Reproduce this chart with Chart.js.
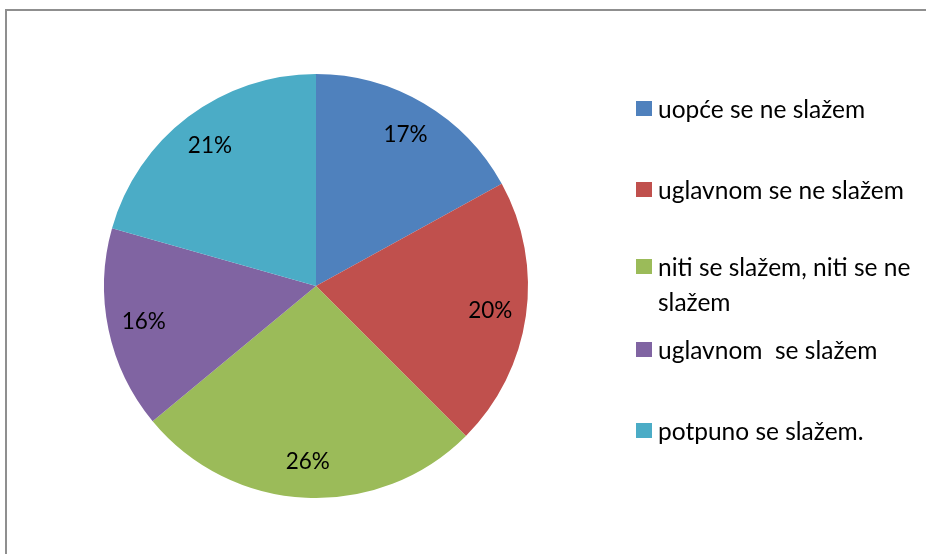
<!DOCTYPE html>
<html>
<head>
<meta charset="utf-8">
<script src="https://cdn.jsdelivr.net/npm/chart.js@4"></script>
<style>
  html, body { margin: 0; padding: 0; background: #fff; overflow: hidden; }
  #wrap { position: relative; width: 926px; height: 554px; }
  #frame { position: absolute; left: 5px; top: 9px; width: 1000px; height: 700px;
           border-left: 2px solid #8f8f8f; border-top: 2px solid #8f8f8f; }
  #pie { position: absolute; left: 0; top: 0; }
  .leg { position: absolute; left: 636px; width: 262px; font-family: Lato, sans-serif;
         font-size: 24.5px; line-height: 35px; color: #000; padding-left: 22px;
         white-space: pre-wrap; }
  .leg span.box { position: absolute; left: 0; top: 10px; width: 16px; height: 15px; }
</style>
</head>
<body>
<div id="wrap">
  <div id="frame"></div>
  <canvas id="pie" width="926" height="554"></canvas>
</div>
<script>
// Pie data
var categories = ["uopće se ne slažem", "uglavnom se ne slažem", "niti se slažem, niti se ne slažem", "uglavnom  se slažem", "potpuno se slažem."];
// slice sizes
var shares = [17.0, 20.5, 26.5, 15.4, 20.6];
// labels as printed on the slices
var percentLabels = ["17%", "20%", "26%", "16%", "21%"];
var colors = ["#4F81BD", "#C0504D", "#9BBB59", "#8064A2", "#4BACC6"];

// legend layout (tops of each entry)
var legendTops = [91, 172, 249, 332, 413];

// draw the percent labels inside the slices
var sliceLabels = {
    id: 'sliceLabels',
    afterDatasetsDraw: function(chart) {
        var ctx = chart.ctx;
        var meta = chart.getDatasetMeta(0);
        ctx.save();
        ctx.font = "22.5px Lato, sans-serif";
        ctx.fillStyle = "#000";
        ctx.textAlign = "center";
        ctx.textBaseline = "middle";
        meta.data.forEach(function(arc, i) {
            var p = arc.getProps(['x', 'y', 'startAngle', 'endAngle', 'outerRadius'], true);
            var mid = (p.startAngle + p.endAngle) / 2;
            var r = p.outerRadius * 0.83;
            ctx.fillText(percentLabels[i], p.x + Math.cos(mid) * r, p.y + Math.sin(mid) * r);
        });
        ctx.restore();
    }
};

var ctx = document.getElementById("pie");

var chartData = {
    labels: categories,
    datasets: [{
        data: shares,
        backgroundColor: colors,
        borderColor: colors,
        borderWidth: 0
    }]
};

var config = {
    type: 'pie',
    data: chartData,
    options: {
        responsive: false,
        animation: false,
        layout: { padding: { left: 103, right: 397, top: 74, bottom: 56 } },
        plugins: {
            legend: { display: false },
            tooltip: { enabled: false }
        }
    },
    plugins: [sliceLabels]
};

var pieChart = new Chart(ctx, config);

// legend as html so the long label can wrap
var wrap = document.getElementById("wrap");
for (var i = 0; i < categories.length; i++) {
    var item = document.createElement("div");
    item.className = "leg";
    item.style.top = legendTops[i] + "px";
    var box = document.createElement("span");
    box.className = "box";
    box.style.background = colors[i];
    item.appendChild(box);
    item.appendChild(document.createTextNode(categories[i]));
    wrap.appendChild(item);
}
</script>
</body>
</html>
